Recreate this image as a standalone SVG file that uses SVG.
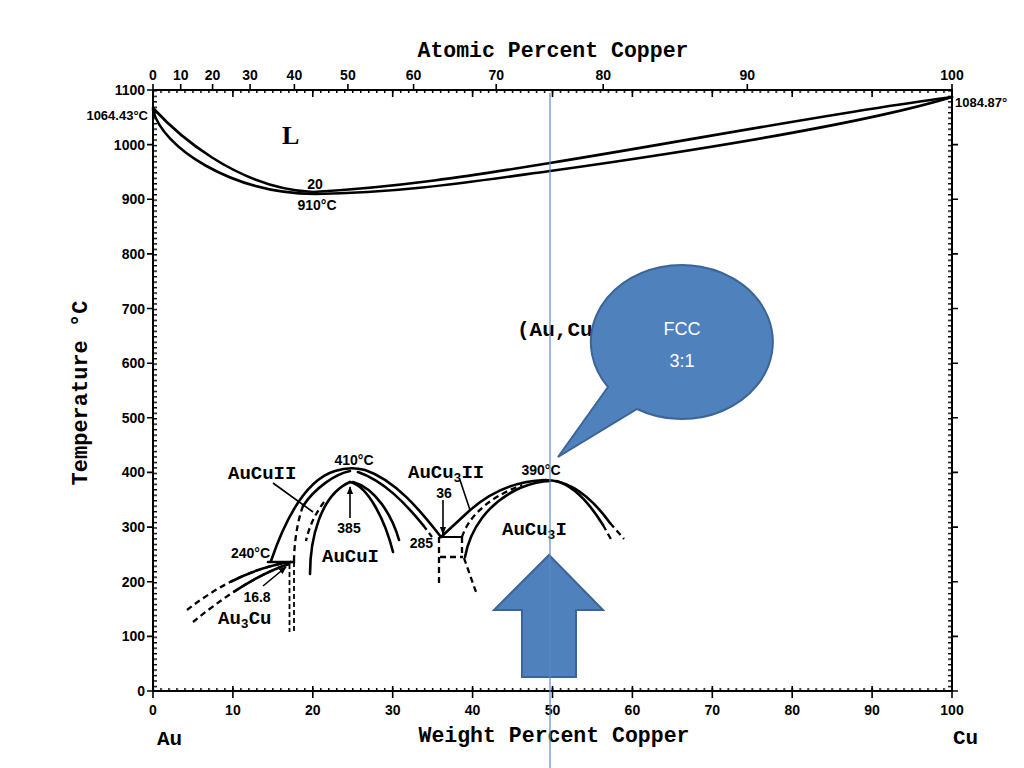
<svg xmlns="http://www.w3.org/2000/svg" width="1024" height="768" viewBox="0 0 1024 768">
<defs>
<style>
.ax{stroke:#000;stroke-width:2;fill:none}
.tk{stroke:#000;stroke-width:1.6;fill:none}
.cv{stroke:#000;stroke-width:2.6;fill:none;stroke-linecap:round}
.cvb{stroke:#000;stroke-width:2.6;fill:none}
.ds{stroke:#000;stroke-width:2.3;fill:none;stroke-dasharray:6 4}
.th{stroke:#000;stroke-width:1.6;fill:none}
.num{font-family:"Liberation Sans",Arial,sans-serif;font-size:14px;font-weight:bold;fill:#000}
.tw{font-family:"Liberation Mono","Courier New",monospace;font-weight:bold;fill:#000}
.blue{fill:#4F81BD;stroke:#3B6597;stroke-width:2}
.wt{font-family:"Liberation Sans",Arial,sans-serif;font-size:18px;fill:#fff;text-anchor:middle}
</style>
<pattern id="tickH" patternUnits="userSpaceOnUse" x="152.25" y="0" width="7.99" height="10"><rect x="0" y="0" width="1.5" height="10" fill="#000"/></pattern>
<pattern id="tickV" patternUnits="userSpaceOnUse" x="0" y="90.2" width="10" height="5.464"><rect x="0" y="0" width="10" height="1.4" fill="#000"/></pattern>
<marker id="ah" viewBox="0 0 10 10" refX="9" refY="5" markerWidth="5" markerHeight="5" orient="auto"><path d="M0,1 L10,5 L0,9 Z" fill="#000"/></marker>
</defs>
<rect width="1024" height="768" fill="#fff"/>

<g id="axes">
<rect class="ax" x="153" y="90" width="799" height="601"/>
<rect x="152" y="90" width="801" height="3" fill="url(#tickH)"/>
<rect x="152" y="688" width="801" height="3" fill="url(#tickH)"/>
<rect x="153" y="90" width="4" height="602" fill="url(#tickV)"/>
<rect x="948" y="90" width="4" height="602" fill="url(#tickV)"/>
<path class="tk" d="M153,84V91 M180.7,84V91 M212.6,84V91 M250.1,84V91 M294.4,84V91 M347.9,84V91 M413.6,84V91 M496.2,84V91 M603.2,84V91 M747.3,84V91 M952,84V91"/>
<path class="tk" d="M232.9,90V97 M312.8,90V97 M392.7,90V97 M472.6,90V97 M552.5,90V97 M632.4,90V97 M712.3,90V97 M792.2,90V97 M872.1,90V97"/>
<path class="tk" d="M153,686V698 M232.9,686V698 M312.8,686V698 M392.7,686V698 M472.6,686V698 M552.5,686V698 M632.4,686V698 M712.3,686V698 M792.2,686V698 M872.1,686V698 M952,686V698"/>
<path class="tk" d="M147,691H153 M147,636.4H153 M147,581.7H153 M147,527.1H153 M147,472.4H153 M147,417.8H153 M147,363.2H153 M147,308.5H153 M147,253.9H153 M147,199.2H153 M147,144.6H153 M147,90H153"/>
<path class="tk" d="M952,691H958 M952,636.4H958 M952,581.7H958 M952,527.1H958 M952,472.4H958 M952,417.8H958 M952,363.2H958 M952,308.5H958 M952,253.9H958 M952,199.2H958 M952,144.6H958"/>
</g>

<g id="axis-labels">
<g class="num" text-anchor="middle">
<text x="153" y="80">0</text><text x="180.7" y="80">10</text><text x="212.6" y="80">20</text><text x="250.1" y="80">30</text><text x="294.4" y="80">40</text><text x="347.9" y="80">50</text><text x="413.6" y="80">60</text><text x="496.2" y="80">70</text><text x="603.2" y="80">80</text><text x="747.3" y="80">90</text><text x="952" y="80">100</text>
<text x="153" y="715">0</text><text x="232.9" y="715">10</text><text x="312.8" y="715">20</text><text x="392.7" y="715">30</text><text x="472.6" y="715">40</text><text x="552.5" y="715">50</text><text x="632.4" y="715">60</text><text x="712.3" y="715">70</text><text x="792.2" y="715">80</text><text x="872.1" y="715">90</text><text x="952" y="715">100</text>
</g>
<g class="num" text-anchor="end">
<text x="145" y="696">0</text><text x="145" y="641.4">100</text><text x="145" y="586.7">200</text><text x="145" y="532.1">300</text><text x="145" y="477.4">400</text><text x="145" y="422.8">500</text><text x="145" y="368.2">600</text><text x="145" y="313.5">700</text><text x="145" y="258.9">800</text><text x="145" y="204.2">900</text><text x="145" y="149.6">1000</text><text x="145" y="95">1100</text>
<text x="148" y="120" style="font-size:13px">1064.43°C</text>
</g>
<text class="num" x="955" y="107" style="font-size:13px">1084.87°</text>
<text class="tw" x="553" y="57" text-anchor="middle" style="font-size:21.5px">Atomic Percent Copper</text>
<text class="tw" x="554" y="742" text-anchor="middle" style="font-size:21.5px">Weight Percent Copper</text>
<text class="tw" x="157" y="745" style="font-size:21px">Au</text>
<text class="tw" x="953" y="744" style="font-size:21px">Cu</text>
<text class="tw" x="0" y="0" text-anchor="middle" transform="translate(87,393) rotate(-90)" style="font-size:22px">Temperature °C</text>
</g>

<g id="curves">
<path class="cv" d="M153,108 C175,132 235,188 313,192 C400,187 470,176 550,163 C680,142 850,110 952,97"/>
<path class="cv" d="M153,110 C162,147 230,193 315,194 C400,193 470,182 550,171 C700,150 870,122 952,97"/>

<path class="ds" d="M187,610 C215,588 250,568 291,562"/>
<path class="cvb" pathLength="100" stroke-dasharray="0 45 55 0" d="M187,610 C215,588 250,568 291,562"/>
<path class="ds" d="M193,622 C220,600 255,575 289,564"/>
<path class="cvb" pathLength="100" stroke-dasharray="0 45 55 0" d="M193,622 C220,600 255,575 289,564"/>
<path class="cv" d="M268,562 H294"/>
<path class="ds" style="stroke-width:1.8;stroke-dasharray:5 3" d="M289.5,564 V632 M294,562 V632"/>
<path class="th" marker-end="url(#ah)" d="M263,586 L286,567"/>

<path class="cv" d="M271,561 C285,520 305,480 335,471 Q350,466 365,470 C395,480 420,510 441,537"/>
<path class="cv" d="M350,471 C335,474 315,488 303,506"/>
<path class="ds" d="M303,506 C297,522 294,545 294,562"/>
<path class="cv" d="M358,472 C384,481 405,503 423,525"/>
<path class="ds" d="M423,525 L432,537"/>
<path class="th" d="M273,483 L313,512"/>

<path class="cv" d="M310,574 C310,540 320,495 350,482"/>
<path class="cv" d="M350,482 C368,486 385,520 393,552"/>
<path class="cv" d="M353,482 C375,488 392,515 399,540"/>
<path class="ds" d="M324,502 C315,514 309,527 306,541"/>
<path class="th" marker-end="url(#ah)" d="M350,518 L350,487"/>

<path class="cv" d="M441,537 L468,512 C490,492 515,481 545,480 C570,480 592,498 610,523"/>
<path class="ds" d="M610,523 L624,539"/>
<path class="cv" d="M556,481 C575,486 590,504 603,525"/>
<path class="ds" d="M603,525 L612,541"/>
<path class="cv" d="M465,557 C470,530 487,503 520,488 C530,484 540,481 550,481"/>
<path class="ds" d="M462,537 C468,518 487,498 522,485"/>
<path class="cv" style="stroke-width:2" d="M440,537 H462"/>
<path class="ds" d="M439,537 V584 M440,557 H463 M462,537 V557 M464,558 L476,592"/>
<path class="th" marker-end="url(#ah)" d="M443,500 L443,534"/>
<path class="th" d="M460,480 L470,510"/>
</g>

<g id="labels">
<text class="tw" x="228" y="479" style="font-size:19px">AuCuII</text>
<text class="num" x="354" y="465" text-anchor="middle">410°C</text>
<text class="num" x="270" y="558" text-anchor="end">240°C</text>
<text class="num" x="257" y="602" text-anchor="middle">16.8</text>
<text class="tw" x="218" y="624" style="font-size:19px">Au<tspan dy="4" style="font-size:13px">3</tspan><tspan dy="-4">Cu</tspan></text>
<text class="num" x="349" y="533" text-anchor="middle">385</text>
<text class="tw" x="322" y="562" style="font-size:19px">AuCuI</text>
<text class="tw" x="408" y="478" style="font-size:19px">AuCu<tspan dy="4" style="font-size:13px">3</tspan><tspan dy="-4">II</tspan></text>
<text class="num" x="444" y="498" text-anchor="middle">36</text>
<text class="num" x="433" y="548" text-anchor="end">285</text>
<text class="num" x="541" y="475" text-anchor="middle">390°C</text>
<text class="tw" x="502" y="535" style="font-size:19px">AuCu<tspan dy="4" style="font-size:13px">3</tspan><tspan dy="-4">I</tspan></text>
<text class="tw" x="517" y="336" style="font-size:21px">(Au,Cu</text>
<text x="282" y="144" style="font-family:'Liberation Serif','Times New Roman',serif;font-size:26px;font-weight:bold;fill:#000">L</text>
<text class="num" x="315" y="189" text-anchor="middle">20</text>
<text class="num" x="317" y="210" text-anchor="middle">910°C</text>
</g>

<g id="up-arrow">
<polygon class="blue" points="549,555 603,610 576,610 576,677 522,677 522,610 494,610"/>
</g>

<g id="callout">
<path class="blue" d="M608,387 L558,457 L637,409 A91,77 0 1 0 608,387 Z"/>
<text class="wt" x="682" y="335">FCC</text>
<text class="wt" x="682" y="367">3:1</text>
</g>

<g id="guide">
<path d="M550,93 V768" stroke="#5E8AC7" stroke-width="1.2" fill="none"/>
</g>
</svg>
